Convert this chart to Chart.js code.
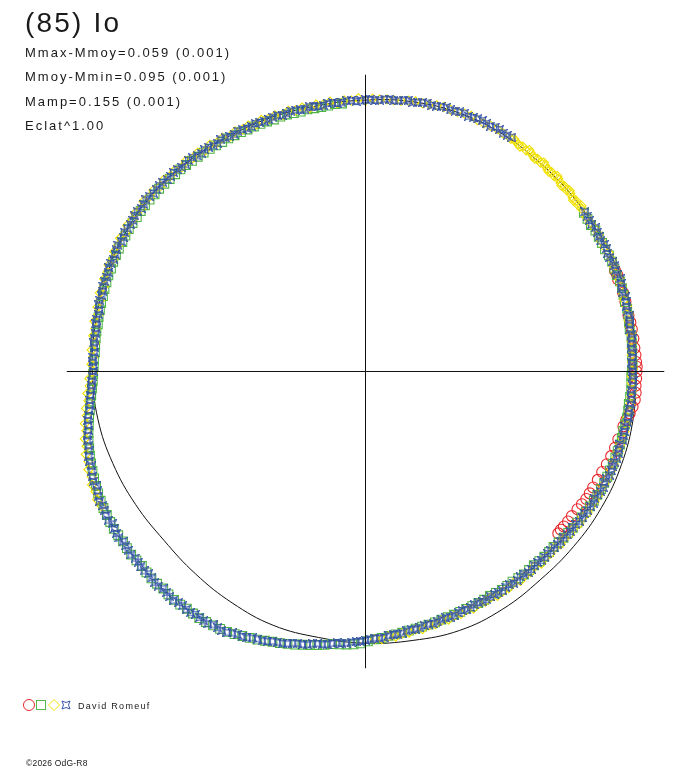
<!DOCTYPE html>
<html><head><meta charset="utf-8">
<script src="https://cdn.jsdelivr.net/npm/chart.js@4.4.1/dist/chart.umd.min.js"></script>
<style>
html,body{margin:0;padding:0;background:#fff;}
#wrap{position:relative;width:688px;height:768px;overflow:hidden;background:#fff;}
#c{position:absolute;left:0;top:0;}
.t{position:absolute;font-family:"Liberation Sans",Arial,sans-serif;color:#1a1a1a;line-height:1;white-space:nowrap;}
</style></head><body>
<div id="wrap">
<canvas id="c" width="688" height="768"></canvas>
<div class="t" style="left:25px;top:9px;font-size:28px;letter-spacing:2.2px;">(85) Io</div>
<div class="t" style="left:25px;top:46px;font-size:13px;letter-spacing:2px;">Mmax-Mmoy=0.059 (0.001)</div>
<div class="t" style="left:25px;top:70px;font-size:13px;letter-spacing:2px;">Mmoy-Mmin=0.095 (0.001)</div>
<div class="t" style="left:25px;top:95px;font-size:13px;letter-spacing:2px;">Mamp=0.155 (0.001)</div>
<div class="t" style="left:25px;top:119px;font-size:13px;letter-spacing:2px;">Eclat^1.00</div>
<svg style="position:absolute;left:0;top:695px" width="80" height="20">
  <circle cx="29" cy="10" r="5.5" fill="none" stroke="#e8262a" stroke-width="1"/>
  <rect x="36.5" y="5.5" width="9" height="9" fill="none" stroke="#55b848" stroke-width="1"/>
  <path d="M54 4.5 L59.5 10 L54 15.5 L48.5 10 Z" fill="none" stroke="#f2e200" stroke-width="1"/>
  <path d="M62 6 Q66 9 70 6 Q67 10 70 14 Q66 11 62 14 Q65 10 62 6 Z" fill="none" stroke="#3a56a8" stroke-width="1"/>
</svg>
<div class="t" style="left:78px;top:701.5px;font-size:9px;letter-spacing:1.3px;">David Romeuf</div>
<div class="t" style="left:26px;top:759px;font-size:8.5px;letter-spacing:0.2px;">©2026 OdG-R8</div>
</div>
<script>
// [phase (deg), relative flux]
const redPts = [[22,0.990],[20,0.989],[17,0.991],[12,0.989],[9,0.992],[5,0.993],[2,0.996],[0,0.997],[-3,0.995],[-6,0.996],[-9,0.984],[-12,0.970],[-15,0.963],[-19,0.956],[-23,0.946],[-27,0.940],[-30,0.938],[-33,0.930],[-35,0.927],[-38,0.926],[-40,0.926]];
const redPts2 = [[21,0.992],[15,0.990],[10.5,0.991],[7,0.993],[3.5,0.995],[1,0.998],[-1.5,0.996],[-4.5,0.997],[-7.5,0.991],[-10.5,0.976],[-17,0.960],[-21,0.951],[-25,0.943],[-28.5,0.939],[-31.5,0.934],[-36.5,0.927],[-39,0.925]];

const greenPts = [[0,0.980],[3,0.982],[6,0.985],[9,0.984],[12,0.989],[15,0.988],[18,0.992],[21,0.990],[24,0.993],[27,0.989],[30,0.991],[33,0.989],[36,0.993],
[95,0.989],[98,0.987],[101,0.986],[104,0.985],[107,0.988],[110,0.986],[113,0.989],[116,0.990],[119,0.993],[122,0.995],[125,0.999],[128,1.002],[131,1.006],[134,1.008],[137,1.012],[140,1.013],[143,1.016],[146,1.015],[149,1.016],[152,1.013],[155,1.013],[158,1.010],[161,1.008],[164,1.005],[167,1.003],[170,1.000],[173,1.000],[176,0.998],[179,1.000],[182,1.004],[185,1.013],[188,1.024],[191,1.037],[194,1.050],[197,1.060],[200,1.069],[203,1.077],[206,1.084],[209,1.088],[212,1.092],[215,1.089],[218,1.094],[221,1.090],[224,1.095],[227,1.091],[230,1.096],[233,1.092],[236,1.094],[239,1.089],[242,1.084],[245,1.073],[248,1.063],[251,1.051],[254,1.042],[257,1.031],[260,1.021],[263,1.010],[266,1.006],[269,1.000],[272,0.985],[275,0.976],[278,0.970],[281,0.963],[284,0.959],[287,0.954],[290,0.952],[293,0.948],[296,0.947],[299,0.944],[302,0.947],[305,0.943],[308,0.947],[311,0.944],[314,0.947],[317,0.946],[320,0.951],[323,0.955],[326,0.959],[329,0.963],[332,0.966],[335,0.969],[338,0.970],[341,0.972],[344,0.974],[347,0.973],[350,0.977],[353,0.976],[356,0.980],[359,0.978]];
const greenPts2 = [[1.5,0.983],[4.5,0.984],[7.5,0.987],[10.5,0.986],[13.5,0.990],[16.5,0.990],[19.5,0.993],[22.5,0.991],[25.5,0.992],[28.5,0.990],[31.5,0.992],[34.5,0.991],
[96.5,0.990],[99.5,0.986],[102.5,0.987],[105.5,0.986],[108.5,0.988],[111.5,0.988],[114.5,0.990],[117.5,0.992],[120.5,0.995],[123.5,0.997],[126.5,1.001],[129.5,1.004],[132.5,1.008],[135.5,1.010],[138.5,1.014],[141.5,1.015],[144.5,1.016],[147.5,1.016],[150.5,1.015],[153.5,1.014],[156.5,1.012],[159.5,1.010],[162.5,1.007],[165.5,1.005],[168.5,1.002],[171.5,1.001],[174.5,0.999],[177.5,1.000],[180.5,1.002],[183.5,1.008],[186.5,1.019],[189.5,1.031],[192.5,1.044],[195.5,1.055],[198.5,1.065],[201.5,1.073],[204.5,1.081],[207.5,1.087],[210.5,1.090],[213.5,1.091],[216.5,1.092],[219.5,1.092],[222.5,1.093],[225.5,1.094],[228.5,1.094],[231.5,1.095],[234.5,1.093],[237.5,1.092],[240.5,1.087],[243.5,1.079],[246.5,1.068],[249.5,1.057],[252.5,1.047],[255.5,1.037],[258.5,1.026],[261.5,1.016],[264.5,1.008],[267.5,1.004],[270.5,0.992],[273.5,0.981],[276.5,0.973],[279.5,0.966],[282.5,0.961],[285.5,0.957],[288.5,0.953],[291.5,0.950],[294.5,0.948],[297.5,0.946],[300.5,0.945],[303.5,0.945],[306.5,0.945],[309.5,0.946],[312.5,0.946],[315.5,0.947],[318.5,0.949],[321.5,0.953],[324.5,0.957],[327.5,0.961],[330.5,0.965],[333.5,0.968],[336.5,0.970],[339.5,0.971],[342.5,0.973],[345.5,0.974],[348.5,0.975],[351.5,0.977],[354.5,0.978],[357.5,0.979]];

const yellowPts = [[272,0.985],[275,0.978],[278,0.972],[281,0.966],[284,0.962],[287,0.957],[290,0.955],[293,0.952],[296,0.951],[299,0.950],[302,0.953],[305,0.949],[308,0.952],[311,0.948],[314,0.951],[317,0.950],[320,0.955],[323,0.958],[326,0.962],[329,0.966],[332,0.970],[335,0.971],[338,0.974],[341,0.976],[344,0.975],[347,0.978],[350,0.979],[353,0.981],[356,0.982],[359,0.980],[2,0.982],[5,0.983],[8,0.987],[11,0.986],[14,0.991],[17,0.990],[20,0.994],[23,0.992],[26,0.995],[29,0.991],[32,0.994],[35,0.992],
[37,0.995],[38,0.993],[39,0.997],[40,0.995],[41,0.998],[42,0.996],[43,1.000],[44,0.998],[45,1.002],[46,0.999],[47,1.003],[48,1.001],[49,1.005],[50,1.002],[51,1.006],[52,1.004],[53,1.008],[54,1.005],[55,1.009],[56,1.007],[57,1.011],[58,1.009],
[60,1.011],[63,1.014],[66,1.012],[69,1.016],[72,1.012],[75,1.013],[78,1.008],[81,1.008],[84,1.002],[87,1.002],[90,0.996],[93,0.997],[96,0.992],[99,0.994],[102,0.990],[105,0.994],[108,0.991],[111,0.995],[114,0.993],[117,0.998],[120,0.997],[123,1.003],[126,1.004],[129,1.010],[132,1.010],[135,1.016],[138,1.017],[141,1.022],[144,1.020],[147,1.023],[150,1.020],[153,1.021],[156,1.016],[159,1.017],[162,1.012],[165,1.011],[168,1.005],[171,1.006],[174,1.001],[177,1.004],[180,1.002],[183,1.016],[186,1.025],[189,1.038],[192,1.050],[195,1.062],[198,1.072],[201,1.079],[204,1.087],[207,1.090]];
const yellowPts2 = [[273.5,0.986],[276.5,0.981],[279.5,0.973],[282.5,0.970],[285.5,0.964],[288.5,0.962],[291.5,0.958],[294.5,0.958],[297.5,0.954],[300.5,0.957],[303.5,0.955],[306.5,0.958],[309.5,0.955],[312.5,0.958],[315.5,0.955],[318.5,0.959],[321.5,0.961],[324.5,0.966],[327.5,0.969],[330.5,0.969],[333.5,0.970],[336.5,0.974],[339.5,0.975],[342.5,0.977],[345.5,0.977],[348.5,0.980],[351.5,0.980],[354.5,0.983],[357.5,0.981],[0.5,0.984],[3.5,0.981],[6.5,0.986],[9.5,0.985],[12.5,0.989],[15.5,0.988],[18.5,0.993],[21.5,0.991],[24.5,0.995],[27.5,0.992],[30.5,0.995],[33.5,0.991],
[37.5,1.001],[39.5,0.990],[41.5,1.003],[43.5,0.993],[45.5,1.007],[47.5,0.997],[49.5,1.010],[51.5,1.000],[53.5,1.013],[55.5,1.003],[57.5,1.015],
[61.5,1.015],[64.5,1.011],[67.5,1.017],[70.5,1.013],[73.5,1.015],[76.5,1.010],[79.5,1.010],[82.5,1.004],[85.5,1.004],[88.5,1.004],[91.5,1.005],[94.5,1.000],[97.5,1.001],[100.5,0.998],[103.5,0.998],[106.5,0.999],[109.5,0.999],[112.5,1.001],[115.5,1.002],[118.5,1.005],[121.5,1.007],[124.5,1.011],[127.5,1.014],[130.5,1.018],[133.5,1.020],[136.5,1.024],[139.5,1.026],[142.5,1.029],[145.5,1.028],[148.5,1.028],[151.5,1.027],[154.5,1.024],[157.5,1.023],[160.5,1.020],[163.5,1.019],[166.5,1.014],[169.5,1.014],[172.5,1.010],[175.5,1.010],[178.5,1.009],[181.5,1.016],[184.5,1.026],[187.5,1.037],[190.5,1.050],[193.5,1.062],[196.5,1.073],[199.5,1.081],[202.5,1.089],[205.5,1.094]];

const bluePts = [[0,0.984],[2,0.980],[4,0.986],[6,0.983],[8,0.989],[10,0.987],[12,0.992],[14,0.989],[16,0.994],[18,0.991],[20,0.997],[22,0.993],[24,0.996],[26,0.991],[28,0.995],[30,0.992],[32,0.997],[34,0.993],[36,0.998],
[58,1.016],[60,1.012],[62,1.018],[64,1.014],[66,1.017],[68,1.012],[70,1.016],[72,1.011],[74,1.014],[76,1.009],[78,1.012],[80,1.005],[82,1.008],[84,1.001],[86,1.004],[88,0.997],[90,0.999],[92,0.993],[94,0.997],[96,0.991],[98,0.995],[100,0.990],[102,0.995],[104,0.991],[106,0.996],[108,0.990],[110,0.995],[112,0.992],[114,0.998],[116,0.994],[118,1.001],[120,0.998],[122,1.004],[124,1.001],[126,1.008],[128,1.006],[130,1.013],[132,1.010],[134,1.017],[136,1.015],[138,1.021],[140,1.019],[142,1.025],[144,1.020],[146,1.024],[148,1.019],[150,1.024],[152,1.018],[154,1.021],[156,1.015],[158,1.019],[160,1.013],[162,1.016],[164,1.009],[166,1.011],[168,1.004],[170,1.007],[172,1.002],[174,1.005],[176,1.000],[178,1.005],[180,1.002],[182,1.009],[184,1.011],[186,1.020],[188,1.026],[190,1.038],[192,1.042],[194,1.055],[196,1.058],[198,1.068],[200,1.071],[202,1.080],[204,1.079],[206,1.088],[208,1.086],[210,1.093],[212,1.089],[214,1.094],[216,1.090],[218,1.095],[220,1.090],[222,1.096],[224,1.092],[226,1.097],[228,1.093],[230,1.098],[232,1.093],[234,1.096],[236,1.091],[238,1.094],[240,1.088],[242,1.086],[244,1.076],[246,1.072],[248,1.061],[250,1.056],[252,1.046],[254,1.041],[256,1.030],[258,1.027],[260,1.016],[262,1.013],[264,1.003],[266,1.001],[268,0.994],[270,0.989],[272,0.981],[274,0.980],[276,0.972],[278,0.971],[280,0.964],[282,0.964],[284,0.957],[286,0.958],[288,0.952],[290,0.954],[292,0.948],[294,0.951],[296,0.946],[298,0.950],[300,0.946],[302,0.951],[304,0.946],[306,0.951],[308,0.945],[310,0.950],[312,0.945],[314,0.950],[316,0.948],[318,0.952],[320,0.952],[322,0.957],[324,0.957],[326,0.963],[328,0.962],[330,0.968],[332,0.967],[334,0.973],[336,0.970],[338,0.976],[340,0.973],[342,0.978],[344,0.974],[346,0.979],[348,0.976],[350,0.982],[352,0.979],[354,0.984],[356,0.980],[358,0.985]];
const bluePts2 = [[1,0.982],[3,0.985],[5,0.981],[7,0.988],[9,0.985],[11,0.991],[13,0.988],[15,0.993],[17,0.990],[19,0.995],[21,0.992],[23,0.997],[25,0.992],[27,0.996],[29,0.990],[31,0.995],[33,0.991],[35,0.996],
[59,1.013],[61,1.017],[63,1.013],[65,1.018],[67,1.014],[69,1.017],[71,1.012],[73,1.015],[75,1.010],[77,1.013],[79,1.007],[81,1.010],[83,1.003],[85,1.005],[87,0.999],[89,1.001],[91,0.995],[93,0.998],[95,0.992],[97,0.996],[99,0.991],[101,0.994],[103,0.990],[105,0.995],[107,0.991],[109,0.996],[111,0.992],[113,0.996],[115,0.994],[117,0.999],[119,0.997],[121,1.002],[123,1.001],[125,1.007],[127,1.005],[129,1.012],[131,1.010],[133,1.016],[135,1.014],[137,1.020],[139,1.018],[141,1.024],[143,1.021],[145,1.025],[147,1.020],[149,1.023],[151,1.019],[153,1.022],[155,1.016],[157,1.018],[159,1.014],[161,1.015],[163,1.010],[165,1.012],[167,1.005],[169,1.008],[171,1.003],[173,1.006],[175,1.001],[177,1.004],[179,1.001],[181,1.006],[183,1.008],[185,1.016],[187,1.021],[189,1.032],[191,1.038],[193,1.049],[195,1.054],[197,1.064],[199,1.067],[201,1.077],[203,1.077],[205,1.085],[207,1.084],[209,1.091],[211,1.088],[213,1.093],[215,1.089],[217,1.094],[219,1.090],[221,1.095],[223,1.091],[225,1.096],[227,1.092],[229,1.097],[231,1.092],[233,1.096],[235,1.090],[237,1.093],[239,1.087],[241,1.089],[243,1.079],[245,1.075],[247,1.064],[249,1.060],[251,1.049],[253,1.045],[255,1.034],[257,1.030],[259,1.020],[261,1.016],[263,1.007],[265,1.004],[267,0.996],[269,0.993],[271,0.984],[273,0.982],[275,0.975],[277,0.973],[279,0.966],[281,0.966],[283,0.959],[285,0.960],[287,0.954],[289,0.955],[291,0.950],[293,0.952],[295,0.947],[297,0.951],[299,0.947],[301,0.950],[303,0.945],[305,0.950],[307,0.946],[309,0.951],[311,0.946],[313,0.951],[315,0.947],[317,0.951],[319,0.950],[321,0.955],[323,0.954],[325,0.960],[327,0.959],[329,0.965],[331,0.964],[333,0.970],[335,0.969],[337,0.974],[339,0.972],[341,0.977],[343,0.975],[345,0.980],[347,0.977],[349,0.982],[351,0.979],[353,0.983],[355,0.981],[357,0.985],[359,0.982]];

// fitted curve (black line)
const fitPts = [[0,0.998],[10,0.998],[20,1.000],[30,0.996],[40,0.998],[50,1.000],[60,1.008],[70,1.011],[80,1.007],[90,0.998],[100,0.993],[110,0.996],[120,1.000],[130,1.011],[140,1.020],[150,1.020],[160,1.015],[170,1.009],[180,1.005],[190,1.000],[200,0.989],[210,0.977],[220,0.967],[230,0.972],[240,0.982],[250,0.993],[260,0.993],[270,0.999],[280,1.004],[290,1.013],[300,1.009],[310,1.000],[320,1.000],[330,1.002],[340,1.002],[350,1.000],[360,0.998]];

const X_LIMIT = 1.1;
const Y_LIMIT = 1.092;

const toXY = pts => pts.map(([a, f]) => ({x: f * Math.cos(a * Math.PI / 180), y: f * Math.sin(a * Math.PI / 180)}));

function makeStar(color) {
  const c = document.createElement('canvas');
  c.width = 9; c.height = 9;
  const g = c.getContext('2d');
  g.strokeStyle = color; g.lineWidth = 1.1;
  g.beginPath();
  g.moveTo(0.5, 0.5);
  g.quadraticCurveTo(4.5, 3.5, 8.5, 0.5);
  g.quadraticCurveTo(5.5, 4.5, 8.5, 8.5);
  g.quadraticCurveTo(4.5, 5.5, 0.5, 8.5);
  g.quadraticCurveTo(3.5, 4.5, 0.5, 0.5);
  g.closePath();
  g.stroke();
  return c;
}

const lineDs = (data, color) => ({data, showLine: true, borderColor: color, borderWidth: 1, pointRadius: 0, fill: false, tension: 0});

new Chart(document.getElementById('c'), {
  type: 'scatter',
  data: {datasets: [
    lineDs([{x: -X_LIMIT, y: 0}, {x: X_LIMIT, y: 0}], '#111'),
    lineDs([{x: 0, y: -Y_LIMIT}, {x: 0, y: Y_LIMIT}], '#111'),
    {data: toXY(bluePts.concat(bluePts2)), pointStyle: makeStar('#3250a8'), pointRadius: 4.5, borderColor: '#3250a8', backgroundColor: 'transparent'},
    {data: toXY(yellowPts.concat(yellowPts2)), pointStyle: 'rectRot', pointRadius: 4.6, borderWidth: 1.1, borderColor: '#f0e000', backgroundColor: 'transparent'},
    {data: toXY(greenPts.concat(greenPts2)), pointStyle: 'rect', pointRadius: 6.2, borderWidth: 1.1, borderColor: '#52b445', backgroundColor: 'transparent'},
    {data: toXY(redPts.concat(redPts2)), pointStyle: 'circle', pointRadius: 5.5, borderWidth: 1.1, borderColor: '#e8262a', backgroundColor: 'transparent'},
    Object.assign(lineDs(toXY(fitPts), '#111'), {tension: 0.4})
  ]},
  options: {
    responsive: false, animation: false, devicePixelRatio: 1,
    layout: {padding: {left: 66.5, right: 23.5, top: 74.5, bottom: 99.5}},
    plugins: {legend: {display: false}, tooltip: {enabled: false}},
    scales: {
      x: {type: 'linear', min: -X_LIMIT, max: X_LIMIT, display: false},
      y: {type: 'linear', min: -Y_LIMIT, max: Y_LIMIT, display: false}
    },
    elements: {point: {hoverRadius: 0}}
  }
});
</script>
</body></html>
